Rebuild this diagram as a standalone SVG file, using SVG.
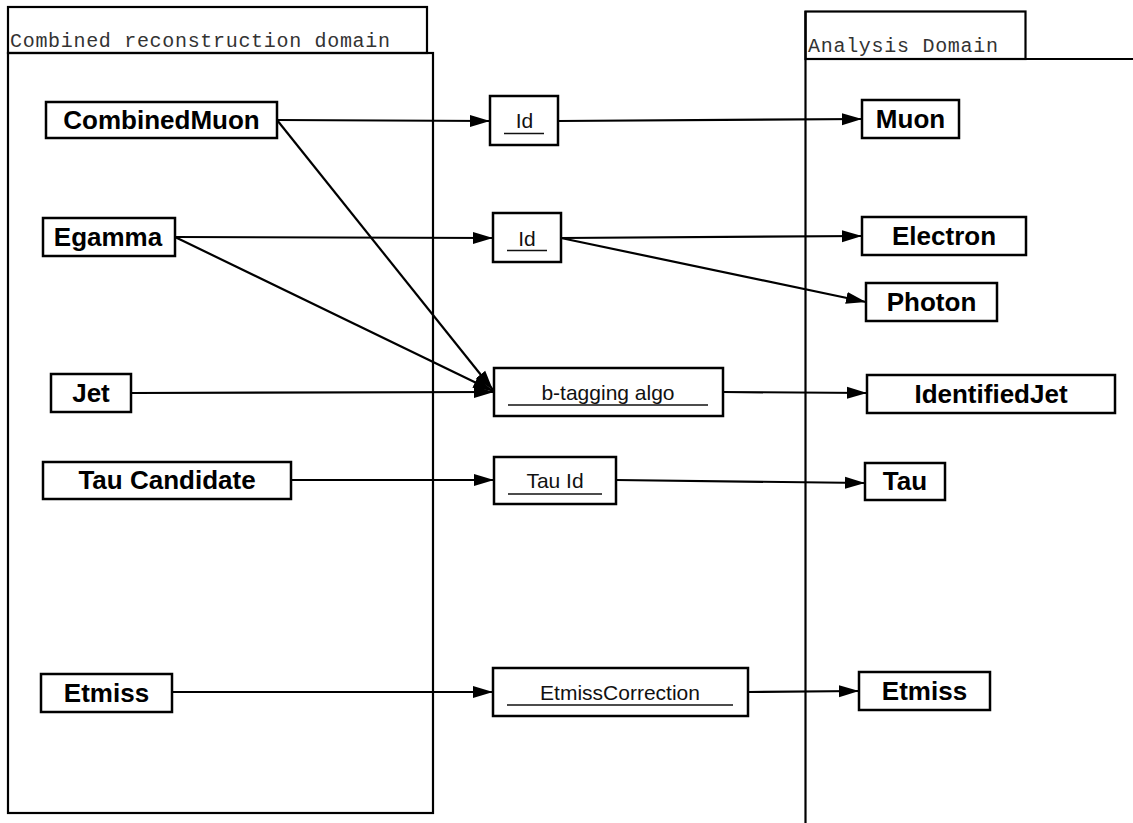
<svg xmlns="http://www.w3.org/2000/svg" width="1133" height="823" viewBox="0 0 1133 823">
<style>
.frame{fill:none;stroke:#000;stroke-width:2.2}
.dom{font-family:"Liberation Mono","Courier New",monospace;font-size:20px;fill:#333}
.node rect{fill:#fff;stroke:#000;stroke-width:2.5}
.node text{font-family:"Liberation Sans",Arial,sans-serif;font-size:26px;font-weight:bold;text-anchor:middle;fill:#000}
.proc rect{fill:#fff;stroke:#000;stroke-width:2.5}
.proc text{font-family:"Liberation Sans",Arial,sans-serif;font-size:21px;text-anchor:middle;fill:#111}
.proc line{stroke:#111;stroke-width:1.3}
.conn line{stroke:#000;stroke-width:2.2;marker-end:url(#arr)}
</style>
<defs>
<marker id="arr" markerUnits="userSpaceOnUse" markerWidth="21" markerHeight="14" refX="20" refY="7" orient="auto">
<path d="M0,1 L20,7 L0,13 z" fill="#000"/>
</marker>
</defs>
<rect width="1133" height="823" fill="#fff"/>
<g id="domain-combined">
<rect class="frame" x="8" y="7" width="419" height="46"/>
<rect class="frame" x="8" y="53" width="425" height="760"/>
<text class="dom" x="10" y="47" textLength="380">Combined reconstruction domain</text>
</g>
<g id="domain-analysis">
<rect class="frame" x="805.5" y="11.5" width="220" height="47.5"/>
<line class="frame" x1="805.5" y1="59" x2="1133" y2="59"/>
<line class="frame" x1="805.5" y1="11" x2="805.5" y2="823"/>
<text class="dom" x="808" y="52" textLength="190">Analysis Domain</text>
</g>
<g id="connectors" class="conn">
<line x1="277" y1="120" x2="490" y2="121"/>
<line x1="277" y1="120" x2="493" y2="390"/>
<line x1="175" y1="237" x2="493" y2="238"/>
<line x1="175" y1="237" x2="493" y2="391"/>
<line x1="131" y1="393" x2="494" y2="392"/>
<line x1="291" y1="480" x2="494" y2="480"/>
<line x1="172" y1="692" x2="493" y2="692"/>
<line x1="558" y1="121" x2="862" y2="119"/>
<line x1="561" y1="238" x2="862" y2="236"/>
<line x1="561" y1="238" x2="866" y2="302"/>
<line x1="723" y1="392" x2="867" y2="393"/>
<line x1="616" y1="480" x2="865" y2="483"/>
<line x1="748" y1="692" x2="859" y2="691"/>
</g>
<g id="CombinedMuon" class="node"><rect x="46" y="102" width="231" height="36"/><text x="161.5" y="129">CombinedMuon</text></g>
<g id="Egamma" class="node"><rect x="43" y="218" width="132" height="38"/><text x="108" y="246">Egamma</text></g>
<g id="Jet" class="node"><rect x="51" y="374" width="80" height="38"/><text x="91" y="402">Jet</text></g>
<g id="TauCandidate" class="node"><rect x="43" y="462" width="248" height="37"/><text x="167" y="489">Tau Candidate</text></g>
<g id="EtmissIn" class="node"><rect x="41" y="674" width="131" height="38"/><text x="106.5" y="702">Etmiss</text></g>
<g id="Id1" class="proc"><rect x="490" y="96" width="68" height="49"/><text x="524.5" y="128">Id</text><line x1="504" y1="133.5" x2="544" y2="133.5"/></g>
<g id="Id2" class="proc"><rect x="493" y="213" width="68" height="49"/><text x="527" y="246">Id</text><line x1="507" y1="250.5" x2="547" y2="250.5"/></g>
<g id="btag" class="proc"><rect x="494" y="368" width="229" height="48"/><text x="608" y="400">b-tagging algo</text><line x1="508" y1="405" x2="708" y2="405"/></g>
<g id="TauId" class="proc"><rect x="494" y="457" width="122" height="47"/><text x="555" y="488">Tau Id</text><line x1="508" y1="494" x2="602" y2="494"/></g>
<g id="EtmissCorrection" class="proc"><rect x="493" y="668" width="255" height="48"/><text x="620" y="700">EtmissCorrection</text><line x1="507" y1="705" x2="733" y2="705"/></g>
<g id="Muon" class="node"><rect x="862" y="100" width="97" height="38"/><text x="910.5" y="128">Muon</text></g>
<g id="Electron" class="node"><rect x="862" y="217" width="164" height="38"/><text x="944" y="245">Electron</text></g>
<g id="Photon" class="node"><rect x="866" y="283" width="131" height="38"/><text x="931.5" y="311">Photon</text></g>
<g id="IdentifiedJet" class="node"><rect x="867" y="375" width="248" height="38"/><text x="991" y="403">IdentifiedJet</text></g>
<g id="Tau" class="node"><rect x="865" y="463" width="80" height="37"/><text x="905" y="490">Tau</text></g>
<g id="EtmissOut" class="node"><rect x="859" y="672" width="131" height="38"/><text x="924.5" y="700">Etmiss</text></g>
</svg>
